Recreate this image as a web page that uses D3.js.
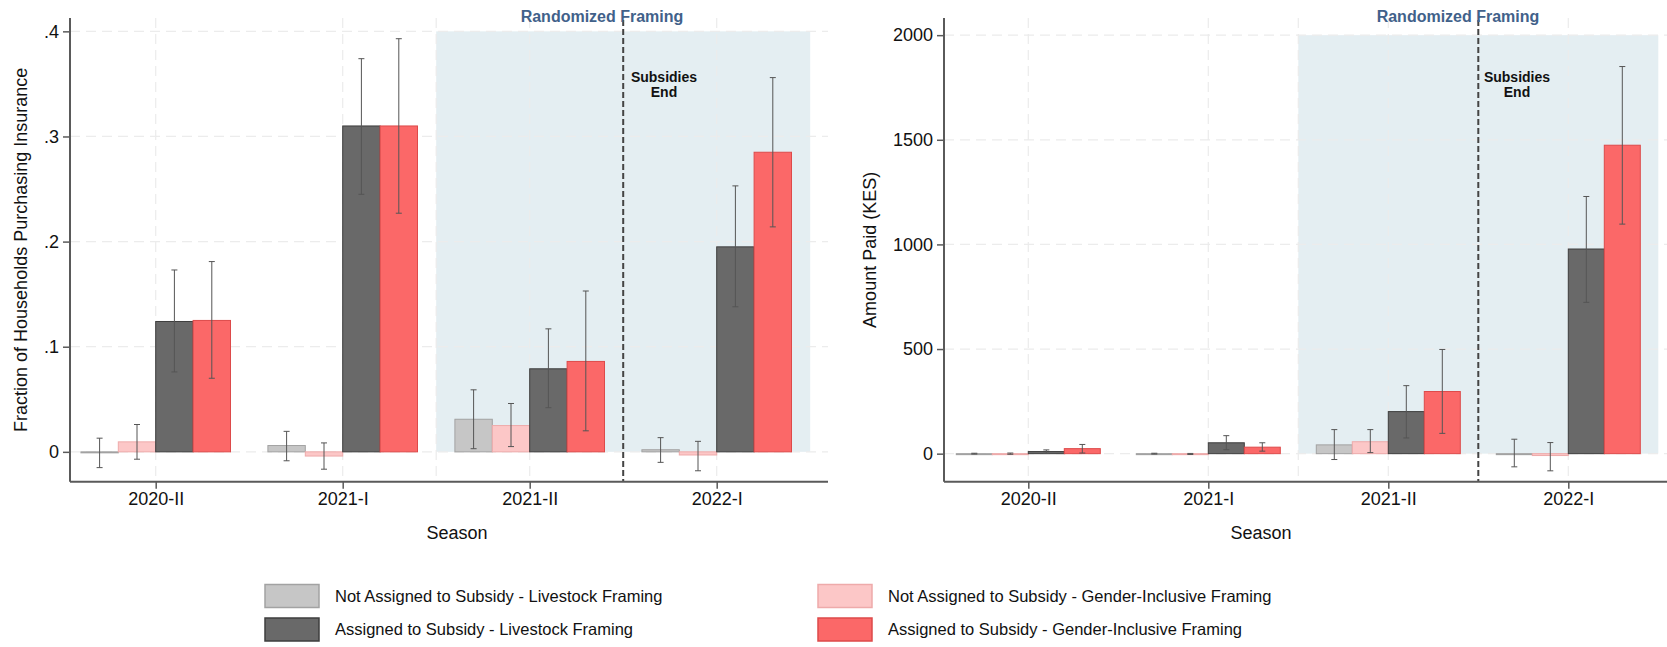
<!DOCTYPE html>
<html><head><meta charset="utf-8">
<script src="https://cdn.jsdelivr.net/npm/d3@7"></script>
<style>
html,body{margin:0;padding:0;background:#fff;}
svg{display:block;font-family:"Liberation Sans",Arial,Helvetica,sans-serif;}
</style></head>
<body><svg id="c" width="1667" height="647"></svg>
<script>
// ---------------- data ----------------
const seasons = ["2020-II", "2021-I", "2021-II", "2022-I"];
const seriesNames = [
  "Not Assigned to Subsidy - Livestock Framing",
  "Not Assigned to Subsidy - Gender-Inclusive Framing",
  "Assigned to Subsidy - Livestock Framing",
  "Assigned to Subsidy - Gender-Inclusive Framing"
];
// legend order (two rows, two columns)
const legendOrder = [0, 1, 2, 3];

// Panel A: fraction purchasing insurance
const fracValues = [
  [0.000, 0.006, 0.031, 0.002],
  [0.0095, -0.004, 0.025, -0.003],
  [0.124, 0.310, 0.079, 0.195],
  [0.125, 0.310, 0.086, 0.285]
];
const fracLow = [
  [-0.015, -0.0085, 0.003, -0.010],
  [-0.007, -0.0165, 0.005, -0.018],
  [0.076, 0.245, 0.042, 0.138],
  [0.070, 0.227, 0.020, 0.214]
];
const fracHigh = [
  [0.013, 0.0195, 0.059, 0.0135],
  [0.026, 0.0085, 0.046, 0.010],
  [0.173, 0.374, 0.117, 0.253],
  [0.181, 0.393, 0.153, 0.356]
];
const fracTicks = [0, 0.1, 0.2, 0.3, 0.4];

// Panel B: amount paid (KES)
const paidValues = [
  [0, 0, 42, 0],
  [0, -2, 57, -9],
  [10, 52, 201, 978],
  [24, 31, 297, 1474]
];
const paidLow = [
  [-2, -2, -28, -63],
  [-3, -4, 5, -82],
  [2, 19, 75, 723],
  [3, 12, 97, 1097]
];
const paidHigh = [
  [2, 2, 115, 69],
  [3, 1, 115, 53],
  [18, 86, 325, 1229],
  [44, 52, 498, 1850]
];
const paidTicks = [0, 500, 1000, 1500, 2000];

const yTitles = ["Fraction of Households Purchasing Insurance", "Amount Paid (KES)"];
const xTitle = "Season";
const shadeLabel = "Randomized Framing";
const subsidyLabel = ["Subsidies", "End"];

// ---------------- styles ----------------
const fills   = ["#c6c6c6", "#fcc7c7", "#696969", "#fb6868"];
const strokes = ["#a2a2a2", "#eeaaaa", "#3e3e3e", "#dd4a4a"];
const shadeColor = "#e4eef2";
const axisColor = "#5a5a5a";
const gridColor = "#ececec";
const errColor = "#555555";

const svg = d3.select("#c");

const panels = [
  { values: fracValues, low: fracLow, high: fracHigh, ticks: fracTicks,
    fmt: v => v === 0 ? "0" : d3.format(".1f")(v).replace(/^0/, ""),
    axisX: 70, right: 828, c0: 155.7, c3: 716.7,
    yDomain: [-0.0284, 0.4127], yTitle: yTitles[0], yTitleX: 21,
    seasonX: 457, shadeTextX: 602, subX: 664 },
  { values: paidValues, low: paidLow, high: paidHigh, ticks: paidTicks,
    fmt: d3.format("d"),
    axisX: 944, right: 1667, c0: 1028.3, c3: 1568.3,
    yDomain: [-134, 2082], yTitle: yTitles[1], yTitleX: 870,
    seasonX: 1261, shadeTextX: 1458, subX: 1517 }
];

const plotTop = 18, plotBottom = 481.7;

panels.forEach(p => {
  const g = svg.append("g");
  const x = d3.scaleLinear().domain([0, seasons.length - 1]).range([p.c0, p.c3]);
  const step = x(1) - x(0);
  const bw = step * 0.2;
  const y = d3.scaleLinear().domain(p.yDomain).range([plotBottom, plotTop]);
  const ymax = p.ticks[p.ticks.length - 1];

  // shaded randomized framing region (seasons 2021-II, 2022-I)
  g.append("rect")
    .attr("x", x(1.5)).attr("width", x(3.5) - x(1.5))
    .attr("y", y(ymax)).attr("height", y(0) - y(ymax))
    .attr("fill", shadeColor);

  // horizontal grid
  g.append("g").selectAll("line").data(p.ticks).join("line")
    .attr("x1", p.axisX).attr("x2", p.right)
    .attr("y1", d => y(d)).attr("y2", d => y(d))
    .attr("stroke", gridColor).attr("stroke-width", 1.2)
    .attr("stroke-dasharray", "10,6");
  // vertical grid at seasons and at shade edge
  g.append("g").selectAll("line").data([0, 1, 1.5, 2, 3]).join("line")
    .attr("x1", d => x(d)).attr("x2", d => x(d))
    .attr("y1", plotTop).attr("y2", plotBottom)
    .attr("stroke", gridColor).attr("stroke-width", 1.2)
    .attr("stroke-dasharray", "10,6");

  // bars
  seriesNames.forEach((s, si) => {
    const off = (si - 1.5) * bw;
    g.append("g").selectAll("rect").data(p.values[si]).join("rect")
      .attr("x", (d, i) => x(i) + off - bw / 2)
      .attr("width", bw)
      .attr("y", d => Math.min(y(d), y(0)))
      .attr("height", d => Math.max(Math.abs(y(d) - y(0)), 1))
      .attr("fill", fills[si])
      .attr("stroke", strokes[si]).attr("stroke-width", 1);
  });
  // error bars
  seriesNames.forEach((s, si) => {
    const off = (si - 1.5) * bw;
    const eg = g.append("g").attr("stroke", errColor).attr("stroke-width", 1);
    p.values[si].forEach((v, i) => {
      const cx = x(i) + off;
      const lo = y(p.low[si][i]), hi = y(p.high[si][i]);
      eg.append("line").attr("x1", cx).attr("x2", cx).attr("y1", lo).attr("y2", hi);
      eg.append("line").attr("x1", cx - 3).attr("x2", cx + 3).attr("y1", lo).attr("y2", lo);
      eg.append("line").attr("x1", cx - 3).attr("x2", cx + 3).attr("y1", hi).attr("y2", hi);
    });
  });

  // subsidies end dashed line
  g.append("line")
    .attr("x1", x(2.5)).attr("x2", x(2.5))
    .attr("y1", plotTop + 2).attr("y2", plotBottom)
    .attr("stroke", "#444").attr("stroke-width", 2)
    .attr("stroke-dasharray", "6,3");

  // axes
  const yAxis = d3.axisLeft(y).tickValues(p.ticks).tickFormat(p.fmt).tickSize(7).tickPadding(4);
  const ya = g.append("g").attr("transform", `translate(${p.axisX},0)`).call(yAxis);
  ya.select(".domain").attr("d", `M0,${plotTop}V${plotBottom}`);
  const xAxis = d3.axisBottom(x).tickValues(d3.range(seasons.length)).tickFormat(i => seasons[i]).tickSize(7).tickPadding(4);
  const xa = g.append("g").attr("transform", `translate(0,${plotBottom})`).call(xAxis);
  xa.select(".domain").attr("d", `M${p.axisX},0H${p.right}`);
  [ya, xa].forEach(a => {
    a.select(".domain").attr("stroke", axisColor).attr("stroke-width", 2);
    a.selectAll(".tick line").attr("stroke", axisColor).attr("stroke-width", 1.5);
    a.selectAll(".tick text").attr("fill", "#111").style("font-size", "18px")
      .style("font-family", '"Liberation Sans",Arial,sans-serif');
  });

  // titles
  g.append("text").attr("transform", `translate(${p.yTitleX},${(plotTop + plotBottom) / 2}) rotate(-90)`)
    .attr("text-anchor", "middle").attr("dy", "0.35em")
    .style("font-size", "18px").attr("fill", "#111").text(p.yTitle);
  g.append("text").attr("x", p.seasonX).attr("y", 539)
    .attr("text-anchor", "middle").style("font-size", "18px").attr("fill", "#111").text(xTitle);

  g.append("text").attr("x", p.shadeTextX).attr("y", 21.5)
    .attr("text-anchor", "middle").style("font-size", "16px").style("font-weight", "bold")
    .attr("fill", "#41618a").text(shadeLabel);
  subsidyLabel.forEach((t, k) => {
    g.append("text").attr("x", p.subX).attr("y", 82 + k * 14.5)
      .attr("text-anchor", "middle").style("font-size", "14px").style("font-weight", "bold")
      .attr("fill", "#111").text(t);
  });
});

// legend
const legX = [265, 818], legY = [584.5, 618];
legendOrder.forEach(si => {
  const col = si % 2, row = Math.floor(si / 2);
  const lg = svg.append("g").attr("transform", `translate(${legX[col]},${legY[row]})`);
  lg.append("rect").attr("width", 54).attr("height", 23)
    .attr("fill", fills[si]).attr("stroke", strokes[si]).attr("stroke-width", 1.5);
  lg.append("text").attr("x", 70).attr("y", 11.5).attr("dy", "0.35em")
    .style("font-size", "16.5px").attr("fill", "#111").text(seriesNames[si]);
});
</script></body></html>
